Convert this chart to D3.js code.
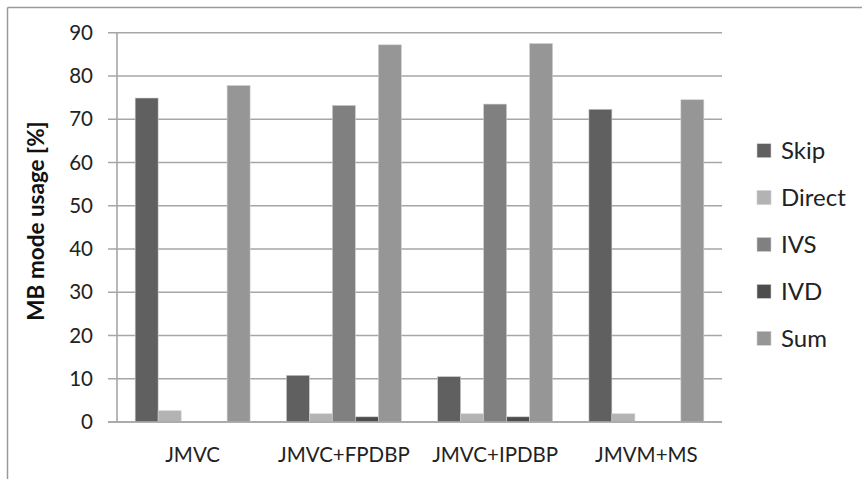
<!DOCTYPE html>
<html><head><meta charset="utf-8">
<script src="https://cdn.jsdelivr.net/npm/d3@7"></script>
<style>html,body{margin:0;padding:0;background:#fff;}svg{display:block;}</style>
</head><body>
<svg id="chart" width="862" height="479"></svg>
<script>
const categories = ["JMVC", "JMVC+FPDBP", "JMVC+IPDBP", "JMVM+MS"];
const seriesNames = ["Skip", "Direct", "IVS", "IVD", "Sum"];
const skip   = [74.9, 10.8, 10.5, 72.3];
const direct = [2.6, 1.9, 1.9, 1.9];
const ivs    = [0, 73.2, 73.5, 0];
const ivd    = [0, 1.2, 1.2, 0];
const sum    = [77.8, 87.2, 87.5, 74.5];
const yTicks = [0, 10, 20, 30, 40, 50, 60, 70, 80, 90];
const colors = ["#606060", "#b3b3b3", "#808080", "#4d4d4d", "#969696"];
const seriesValues = [skip, direct, ivs, ivd, sum];

const svg = d3.select("#chart");
const font = "Lato, 'Open Sans', sans-serif";

// frame (left and top border)
svg.append("line").attr("x1",7.5).attr("y1",7.5).attr("x2",862).attr("y2",7.5).attr("stroke","#9a9a9a").attr("stroke-width",1.5);
svg.append("line").attr("x1",7.5).attr("y1",7.5).attr("x2",7.5).attr("y2",479).attr("stroke","#9a9a9a").attr("stroke-width",1.5);

const x0 = d3.scaleBand().domain(categories).range([117, 722]).paddingInner(0).paddingOuter(0);
const x1 = d3.scaleBand().domain(seriesNames).range([0, x0.bandwidth()]).paddingInner(0).paddingOuter(0.79);
const y = d3.scaleLinear().domain([0, 90]).range([422, 32.7]);

// gridlines
svg.append("g").selectAll("line").data(yTicks).join("line")
  .attr("x1", 108).attr("x2", 722)
  .attr("y1", d => y(d)).attr("y2", d => y(d))
  .attr("stroke", "#a6a6a6").attr("stroke-width", 1.6);

// left axis line
svg.append("line").attr("x1",117).attr("x2",117).attr("y1",y(90)).attr("y2",y(0)).attr("stroke","#a6a6a6").attr("stroke-width",1.6);

// tick labels
svg.append("g").selectAll("text").data(yTicks).join("text")
  .attr("x", 93).attr("y", d => y(d)).attr("dy", "0.35em")
  .attr("text-anchor", "end").attr("font-family", font).attr("font-size", 20.5).attr("fill", "#222")
  .text(d => d);

// bars
const groups = svg.append("g").selectAll("g").data(categories).join("g")
  .attr("transform", d => `translate(${x0(d)},0)`);
groups.selectAll("rect").data((c, ci) => seriesNames.map((s, si) => ({s, si, v: seriesValues[si][ci]})).filter(d => d.v > 0))
  .join("rect")
  .attr("x", d => x1(d.s)).attr("width", x1.bandwidth())
  .attr("y", d => y(d.v)).attr("height", d => y(0) - y(d.v))
  .attr("fill", d => colors[d.si])
  .attr("stroke", "#d0d0d0").attr("stroke-width", 0.6);

// zero line on top
svg.append("line").attr("x1",108).attr("x2",722).attr("y1",y(0)).attr("y2",y(0)).attr("stroke","#a6a6a6").attr("stroke-width",1.6);

// category labels
svg.append("g").selectAll("text").data(categories).join("text")
  .attr("x", d => x0(d) + x0.bandwidth()/2).attr("y", 455).attr("dy", "0.35em")
  .attr("text-anchor", "middle").attr("font-family", font).attr("font-size", 20.5).attr("fill", "#222")
  .text(d => d);

// y axis title
svg.append("text").attr("transform", "translate(36,221) rotate(-90)")
  .attr("text-anchor", "middle").attr("dy", "0.35em")
  .attr("font-family", font).attr("font-size", 22.5).attr("font-weight", "bold").attr("fill", "#111")
  .text("MB mode usage [%]");

// legend
const leg = svg.append("g").selectAll("g").data(seriesNames).join("g")
  .attr("transform", (d, i) => `translate(757,${150.7 + i * 46.9})`);
leg.append("rect").attr("x", 0).attr("y", -7).attr("width", 14).attr("height", 14)
  .attr("fill", (d, i) => colors[i]).attr("stroke", "#d0d0d0").attr("stroke-width", 0.6);
leg.append("text").attr("x", 24).attr("y", 0).attr("dy", "0.35em")
  .attr("font-family", font).attr("font-size", 24).attr("fill", "#222")
  .text(d => d);
</script>
</body></html>
